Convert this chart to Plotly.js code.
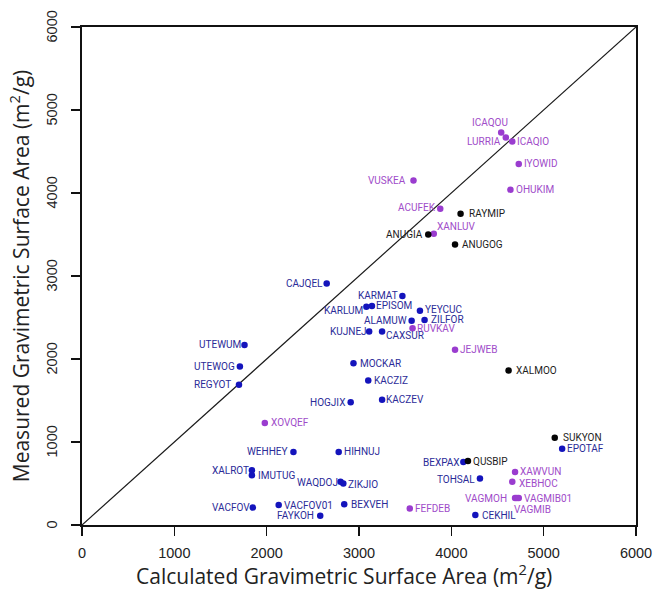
<!DOCTYPE html>
<html>
<head>
<meta charset="utf-8">
<script src="https://cdn.plot.ly/plotly-3.0.1.min.js"></script>
<style>
  html, body { margin: 0; padding: 0; background: #fff; }
  #chart { width: 654px; height: 590px; }
</style>
</head>
<body>
<div id="chart"></div>
<script>
// Calculated vs. measured gravimetric surface area (m2/g)

// Blue group
const blueNames = ["CAJQEL", "KARMAT", "KARLUM", "EPISOM", "YEYCUC", "ALAMUW", "ZILFOR",
  "KUJNEJ", "CAXSUR", "MOCKAR", "KACZIZ", "UTEWUM", "UTEWOG", "REGYOT", "HOGJIX", "KACZEV",
  "WEHHEY", "HIHNUJ", "XALROT", "IMUTUG", "WAQDOJ", "ZIKJIO", "VACFOV", "VACFOV01", "BEXVEH",
  "FAYKOH", "EPOTAF", "BEXPAX", "TOHSAL", "CEKHIL"];
const blueCalc = [2650, 3470, 3080, 3140, 3660, 3570, 3710,
  3110, 3250, 2940, 3100, 1760, 1710, 1700, 2910, 3250,
  2290, 2780, 1840, 1840, 2800, 2830, 1850, 2130, 2840,
  2580, 5200, 4130, 4310, 4260];
const blueMeas = [2910, 2760, 2630, 2640, 2580, 2460, 2470,
  2330, 2330, 1950, 1740, 2170, 1910, 1690, 1480, 1510,
  880, 880, 660, 600, 520, 500, 210, 240, 250,
  110, 920, 760, 560, 120];

// Purple group
const purpleNames = ["ICAQOU", "LURRIA", "ICAQIO", "IYOWID", "VUSKEA", "OHUKIM", "ACUFEK",
  "XANLUV", "RUVKAV", "JEJWEB", "XOVQEF", "XAWVUN", "XEBHOC", "VAGMOH", "VAGMIB", "VAGMIB01", "FEFDEB"];
const purpleCalc = [4540, 4590, 4660, 4730, 3590, 4640, 3880,
  3810, 3580, 4040, 1980, 4690, 4660, 4690, 4710, 4730, 3550];
const purpleMeas = [4730, 4670, 4620, 4350, 4150, 4040, 3810,
  3510, 2370, 2110, 1230, 640, 520, 325, 325, 325, 200];

// Black group
const blackNames = ["RAYMIP", "ANUGIA", "ANUGOG", "XALMOO", "SUKYON", "QUSBIP"];
const blackCalc = [4100, 3750, 4040, 4620, 5120, 4180];
const blackMeas = [3750, 3500, 3380, 1860, 1050, 770];

// y = x reference line
const parity = [0, 6000];

const tickVals = [0, 1000, 2000, 3000, 4000, 5000, 6000];

const xTitle = "Calculated Gravimetric Surface Area (m<sup>2</sup>/g)";
const yTitle = "Measured Gravimetric Surface Area (m<sup>2</sup>/g)";

// Label placement per name: [anchor, xshift px, yshift px]
const labelPlace = {
  ICAQOU: ["center", -11, 9.5], LURRIA: ["right", -5, -4], ICAQIO: ["left", 5, 0],
  IYOWID: ["left", 5, 0], VUSKEA: ["right", -7, 0], OHUKIM: ["left", 6, 0],
  ACUFEK: ["right", -4, 1.5], RAYMIP: ["left", 8, 0], XANLUV: ["left", 3, 7],
  ANUGIA: ["right", -5.5, 0], ANUGOG: ["left", 7, 0], CAJQEL: ["right", -4, 0],
  KARMAT: ["right", -4, 0], KARLUM: ["right", -3, -3.7], EPISOM: ["left", 4, 0],
  YEYCUC: ["left", 5, 1.7], ALAMUW: ["right", -5, 0], ZILFOR: ["left", 6, 0],
  RUVKAV: ["left", 4.7, 0], KUJNEJ: ["right", -2.3, 0], CAXSUR: ["left", 4.3, -3.7],
  JEJWEB: ["left", 5, 0], MOCKAR: ["left", 6.7, 0], KACZIZ: ["left", 5.3, 0],
  UTEWUM: ["right", -4, 0], UTEWOG: ["right", -5.3, 0], REGYOT: ["right", -8, 0],
  HOGJIX: ["right", -5.7, 0], XALMOO: ["left", 7, 0], KACZEV: ["left", 4.3, 0],
  XOVQEF: ["left", 5.7, 0], WEHHEY: ["right", -5.4, 0], HIHNUJ: ["left", 5.3, 0],
  XALROT: ["right", -3, 0], IMUTUG: ["left", 6, 0], WAQDOJ: ["right", -2.7, -0.6],
  ZIKJIO: ["left", 4.3, -0.7], VACFOV: ["right", -3, 0], VACFOV01: ["left", 5.3, 0],
  BEXVEH: ["left", 6.6, 0], FAYKOH: ["right", -6.3, 0], SUKYON: ["left", 8, 0],
  EPOTAF: ["left", 5, 0], BEXPAX: ["right", -3.4, -0.6], QUSBIP: ["left", 4.7, -0.6],
  XAWVUN: ["left", 4.6, 0], TOHSAL: ["right", -4.7, -0.7], XEBHOC: ["left", 6.7, -2],
  VAGMOH: ["right", -7.8, -0.8], VAGMIB01: ["left", 5.5, -0.8], VAGMIB: ["left", -3.2, -11.5],
  FEFDEB: ["left", 5, 0], CEKHIL: ["left", 6.4, -0.7]
};

const groups = [
  { names: blueNames, x: blueCalc, y: blueMeas, dot: "#1414bc", text: "#2b2b98" },
  { names: purpleNames, x: purpleCalc, y: purpleMeas, dot: "#9a3ccf", text: "#a04cc9" },
  { names: blackNames, x: blackCalc, y: blackMeas, dot: "#050505", text: "#1c1c1c" }
];

const traces = [{
  type: "scatter", mode: "lines", x: parity, y: parity,
  line: { color: "#1a1a1a", width: 1.2 }, hoverinfo: "skip", showlegend: false
}];

const titleFont = { family: "'Open Sans', sans-serif", size: 21, color: "#222" };
const tickFont = { family: "'Liberation Sans', Arial, sans-serif", size: 14.5, color: "#222" };

const annotations = [];
groups.forEach(g => {
  traces.push({
    type: "scatter", mode: "markers", x: g.x, y: g.y, text: g.names,
    marker: { color: g.dot, size: 6.5 },
    hovertemplate: "%{text}<br>%{x}, %{y}<extra></extra>", showlegend: false
  });
  g.names.forEach((n, i) => {
    const p = labelPlace[n] || ["left", 5, 0];
    annotations.push({
      x: g.x[i], y: g.y[i], xref: "x", yref: "y", text: n, showarrow: false,
      xanchor: p[0], yanchor: "middle", xshift: p[1], yshift: p[2],
      borderpad: 0, borderwidth: 0,
      font: { family: "Roboto, 'Open Sans', sans-serif", size: 10, color: g.text }
    });
  });
});

// Vertical y tick labels, placed on the y scale at each tick value
tickVals.forEach(v => {
  annotations.push({
    xref: "paper", yref: "y", x: 0, y: v, xanchor: "center", yanchor: "middle",
    xshift: -30.5, textangle: -90, text: String(v), showarrow: false,
    borderpad: 0, font: tickFont
  });
});

// x-axis title, set slightly left of the plot centre
annotations.push({
  xref: "paper", yref: "paper", x: 0.473, y: 0, xanchor: "center", yanchor: "middle",
  yshift: -49.5, text: xTitle, showarrow: false, borderpad: 0, font: titleFont
});

const axisCommon = {
  range: [0, 6000], tickvals: tickVals, ticktext: tickVals.map(String),
  showgrid: false, zeroline: false, showline: true, mirror: true,
  linecolor: "#111", linewidth: 2, ticks: "outside", ticklen: 9, tickwidth: 1.5,
  tickcolor: "#111", tickfont: tickFont
};

const layout = {
  width: 654, height: 590,
  margin: { l: 82, r: 18, t: 27, b: 65 },
  paper_bgcolor: "#fff", plot_bgcolor: "#fff",
  xaxis: Object.assign({}, axisCommon, { ticklabelstandoff: 5 }),
  yaxis: Object.assign({}, axisCommon, {
    showticklabels: false,
    title: { text: yTitle, standoff: 36, font: titleFont }
  }),
  annotations: annotations,
  showlegend: false
};

Plotly.newPlot("chart", traces, layout, { displayModeBar: false, staticPlot: true });
</script>
</body>
</html>
